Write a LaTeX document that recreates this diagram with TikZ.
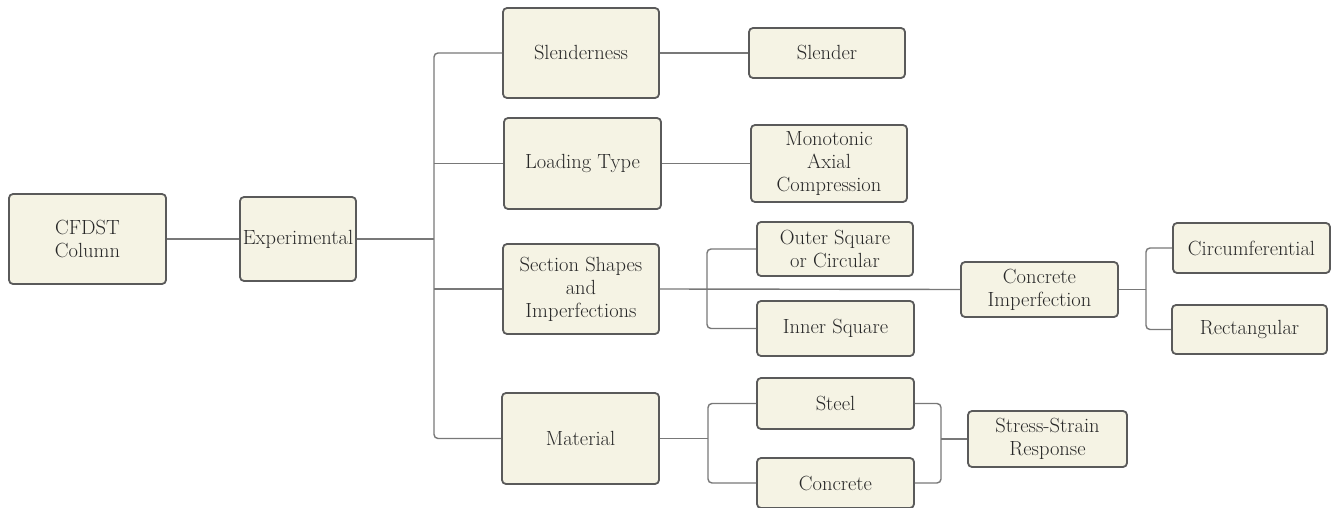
\documentclass[tikz,border=0pt]{standalone}
\usepackage{tikz}
\definecolor{boxfill}{RGB}{245,243,228}
\definecolor{boxline}{RGB}{90,90,90}
\definecolor{conn}{RGB}{120,120,120}
\definecolor{txt}{RGB}{40,40,40}
\begin{document}
\begin{tikzpicture}[x=1pt,y=-1pt,
  box/.style={draw=boxline,fill=boxfill,line width=1.8pt,rounded corners=4pt,
    inner sep=0pt,align=center,text=txt,font=\fontsize{20.5}{23}\selectfont},
  link/.style={draw=conn,line width=1.4pt,rounded corners=4pt}]
\useasboundingbox[fill=white] (0,0) rectangle (1331,508);
% nodes
\node[box,minimum width=157pt,minimum height=90pt] (cfdst) at (87.5,239) {CFDST\\Column};
\node[box,minimum width=116pt,minimum height=84pt] (exp) at (298,239) {Experimental};
\node[box,minimum width=156pt,minimum height=90pt] (slen) at (581,53) {Slenderness};
\node[box,minimum width=156pt,minimum height=50pt] (slender) at (827,53) {Slender};
\node[box,minimum width=157pt,minimum height=91pt] (load) at (582.5,163.5) {Loading Type};
\node[box,minimum width=156pt,minimum height=77pt] (mono) at (829,163.5) {Monotonic\\Axial\\Compression};
\node[box,minimum width=156pt,minimum height=90pt] (sec) at (581,289) {Section Shapes\\and\\Imperfections};
\node[box,minimum width=156pt,minimum height=54pt] (outer) at (835,249) {Outer Square\\or Circular};
\node[box,minimum width=157pt,minimum height=55pt] (inner) at (835.5,328.5) {Inner Square};
\node[box,minimum width=157pt,minimum height=55pt] (cimp) at (1039.5,289.5) {Concrete\\Imperfection};
\node[box,minimum width=157pt,minimum height=50pt] (circ) at (1251.5,248) {Circumferential};
\node[box,minimum width=155pt,minimum height=49pt] (rect) at (1249.5,329.5) {Rectangular};
\node[box,minimum width=157pt,minimum height=91pt] (mat) at (580.5,438.5) {Material};
\node[box,minimum width=157pt,minimum height=51pt] (steel) at (835.5,403.5) {Steel};
\node[box,minimum width=157pt,minimum height=50pt] (conc) at (835.5,483) {Concrete};
\node[box,minimum width=159pt,minimum height=56pt] (ss) at (1047.5,439) {Stress-Strain\\Response};
% branch coordinates
\coordinate (b1) at (434,0);
\coordinate (b2) at (707,0);
\coordinate (b3) at (708,0);
\coordinate (b4) at (1146,0);
\coordinate (b5) at (941,0);
% connectors
\draw[link] (cfdst.east) -- (exp.west);
\draw[link] (exp.east) -- (exp.east -| b1);
\draw[link] (slen.west) -- (slen.west -| b1) -- (mat.west -| b1) -- (mat.west);
\draw[link] (load.west) -- (load.west -| b1);
\draw[link] (sec.west) -- (sec.west -| b1);
\draw[link] (slen.east) -- (slender.west);
\draw[link] (load.east) -- (mono.west);
\draw[link] (sec.east) -- (cimp.west);
\draw[link] (outer.west) -- (outer.west -| b2) -- (inner.west -| b2) -- (inner.west);
\draw[link] (cimp.east) -- (cimp.east -| b4);
\draw[link] (circ.west) -- (circ.west -| b4) -- (rect.west -| b4) -- (rect.west);
\draw[link] (mat.east) -- (mat.east -| b3);
\draw[link] (steel.west) -- (steel.west -| b3) -- (conc.west -| b3) -- (conc.west);
\draw[link] (steel.east) -- (steel.east -| b5) -- (conc.east -| b5) -- (conc.east);
\draw[link] (ss.west -| b5) -- (ss.west);
\end{tikzpicture}
\end{document}
